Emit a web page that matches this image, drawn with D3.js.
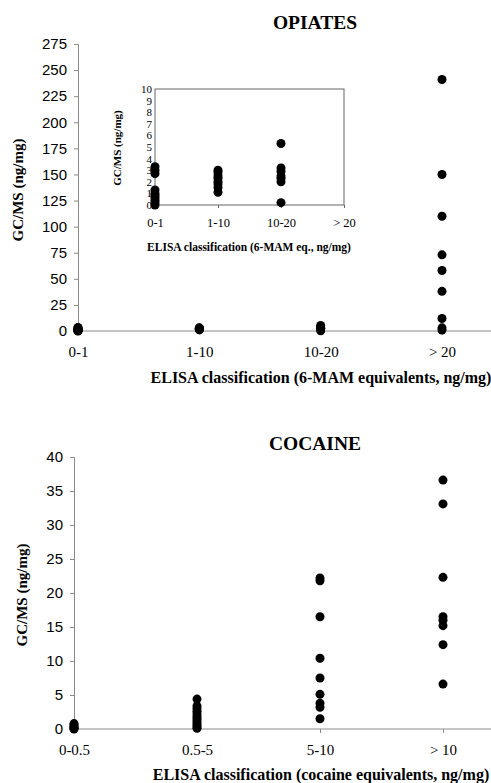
<!DOCTYPE html>
<html>
<head>
<meta charset="utf-8">
<script src="https://cdn.jsdelivr.net/npm/d3@7/dist/d3.min.js"></script>
<style>
  body { margin: 0; background: #fff; }
  .serif { font-family: "Liberation Serif", "Times New Roman", serif; }
  .sans { font-family: "Liberation Sans", Arial, sans-serif; }
</style>
</head>
<body>
<svg width="491" height="783"></svg>
<script>

// ---- opiates (GC/MS ng/mg by ELISA class) ----
var opiateCats = ["0-1", "1-10", "10-20", "> 20"];
var opiateLow  = [3.3, 3.0, 2.7, 1.3, 1.0, 0.8, 0.6, 0.4, 0.2, 0.0];
var opiateMid  = [3.0, 2.8, 2.5, 2.3, 2.0, 1.8, 1.5, 1.1];
var opiateHigh = [5.3, 3.2, 2.9, 2.5, 2.3, 2.0, 0.2];
var opiateTop  = [241, 150, 110, 73, 58, 38, 12, 3, 1];
var opiateYTicks = d3.range(0, 276, 25);
var insetYTicks = d3.range(0, 11, 1);

// ---- cocaine ----
var cocaineCats = ["0-0.5", "0.5-5", "5-10", "> 10"];
var cocaineLow  = [0.8, 0.6, 0.4, 0.2, 0.1, 0.0];
var cocaineMid  = [4.4, 3.4, 3.0, 2.6, 2.2, 1.8, 1.5, 1.2, 0.9, 0.6, 0.3, 0.1];
var cocaineHigh = [22.2, 21.8, 16.5, 10.4, 7.5, 5.1, 3.8, 3.2, 1.5];
var cocaineTop  = [36.6, 33.1, 22.3, 16.5, 16.0, 15.2, 12.4, 6.6];
var cocaineYTicks = d3.range(0, 41, 5);

function pts(cats, groups) {
  var out = [];
  groups.forEach(function(g, i) {
    g.forEach(function(v) { out.push({c: cats[i], v: v}); });
  });
  return out;
}

var svg = d3.select("svg");
var axisColor = "#8a8a8a";

function panel(o) {
  var g = svg.append("g");
  var x = d3.scalePoint().domain(o.cats).range([o.left, o.right]);
  var y = d3.scaleLinear().domain(o.ydom).range([o.bottom, o.top]);

  // y axis
  var ya = g.append("g")
      .attr("transform", "translate(" + o.left + ",0)")
      .call(d3.axisLeft(y).tickValues(o.yticks).tickSize(4).tickPadding(7));
  ya.selectAll("path, line").attr("stroke", axisColor);
  ya.selectAll("text")
      .attr("class", "sans")
      .attr("font-size", o.yfont)
      .attr("fill", "#000");

  // x axis (line runs past the last category)
  var xa = g.append("g")
      .attr("transform", "translate(0," + o.bottom + ")")
      .call(d3.axisBottom(x).tickSize(4).tickPadding(11));
  xa.select(".domain").remove();
  xa.append("line")
      .attr("x1", o.left).attr("x2", o.axisEnd)
      .attr("stroke", axisColor);
  xa.selectAll("line").attr("stroke", axisColor);
  xa.selectAll("text")
      .attr("class", "serif")
      .attr("font-size", 15)
      .attr("fill", "#000");

  g.append("text")
      .attr("class", "serif")
      .attr("x", o.titleX).attr("y", o.titleY)
      .attr("text-anchor", "middle")
      .attr("font-weight", "bold")
      .attr("font-size", 19.5)
      .text(o.title);

  g.append("text")
      .attr("class", "serif")
      .attr("x", o.xlabX).attr("y", o.xlabY)
      .attr("text-anchor", "middle")
      .attr("font-weight", "bold")
      .attr("font-size", 16)
      .text(o.xlab);

  g.append("text")
      .attr("class", "serif")
      .attr("transform", "translate(" + o.ylabX + "," + o.ylabY + ") rotate(-90)")
      .attr("text-anchor", "middle")
      .attr("font-weight", "bold")
      .attr("font-size", 15)
      .text("GC/MS (ng/mg)");

  g.selectAll("circle.dot")
    .data(o.data)
    .enter().append("circle")
      .attr("class", "dot")
      .attr("cx", function(d) { return x(d.c); })
      .attr("cy", function(d) { return y(d.v); })
      .attr("r", 4.5)
      .attr("fill", "#000");
}

panel({
  cats: opiateCats, ydom: [0, 275], yticks: opiateYTicks, yfont: 15,
  left: 78, right: 442, axisEnd: 491, top: 44, bottom: 331,
  data: pts(opiateCats, [opiateLow, opiateMid, opiateHigh, opiateTop]),
  title: "OPIATES", titleX: 315, titleY: 29,
  xlab: "ELISA classification (6-MAM equivalents, ng/mg)", xlabX: 321, xlabY: 383,
  ylabX: 23, ylabY: 190
});

panel({
  cats: cocaineCats, ydom: [0, 40], yticks: cocaineYTicks, yfont: 15,
  left: 74, right: 443, axisEnd: 491, top: 457, bottom: 729,
  data: pts(cocaineCats, [cocaineLow, cocaineMid, cocaineHigh, cocaineTop]),
  title: "COCAINE", titleX: 315, titleY: 450,
  xlab: "ELISA classification (cocaine equivalents, ng/mg)", xlabX: 321, xlabY: 780,
  ylabX: 27, ylabY: 595
});

// ---- inset: opiates, low range ----
var inset = svg.append("g");
var ix = d3.scalePoint().domain(opiateCats).range([155, 344]);
var iy = d3.scaleLinear().domain([0, 10]).range([205, 89]);

inset.append("rect")
    .attr("x", 155).attr("y", 89)
    .attr("width", 344 - 155).attr("height", 205 - 89)
    .attr("fill", "#fff")
    .attr("stroke", "#666");

var iya = inset.append("g")
    .attr("transform", "translate(155,0)")
    .call(d3.axisLeft(iy).tickValues(insetYTicks).tickSize(0).tickPadding(3));
iya.select(".domain").remove();
iya.selectAll("text")
    .attr("class", "serif")
    .attr("font-size", 11)
    .attr("fill", "#000");

var ixa = inset.append("g")
    .attr("transform", "translate(0,205)")
    .call(d3.axisBottom(ix).tickSize(3).tickPadding(10));
ixa.select(".domain").remove();
ixa.selectAll("line").attr("stroke", "#666");
ixa.selectAll("text")
    .attr("class", "serif")
    .attr("font-size", 12.5)
    .attr("fill", "#000");

inset.append("text")
    .attr("class", "serif")
    .attr("x", 249).attr("y", 251)
    .attr("text-anchor", "middle")
    .attr("font-weight", "bold")
    .attr("font-size", 11.5)
    .text("ELISA classification (6-MAM eq., ng/mg)");

inset.append("text")
    .attr("class", "serif")
    .attr("transform", "translate(121,148) rotate(-90)")
    .attr("text-anchor", "middle")
    .attr("font-weight", "bold")
    .attr("font-size", 11)
    .text("GC/MS (ng/mg)");

inset.selectAll("circle.dot")
  .data(pts(opiateCats, [opiateLow, opiateMid, opiateHigh]))
  .enter().append("circle")
    .attr("class", "dot")
    .attr("cx", function(d) { return ix(d.c); })
    .attr("cy", function(d) { return iy(d.v); })
    .attr("r", 4.5)
    .attr("fill", "#000");

</script>
</body>
</html>
